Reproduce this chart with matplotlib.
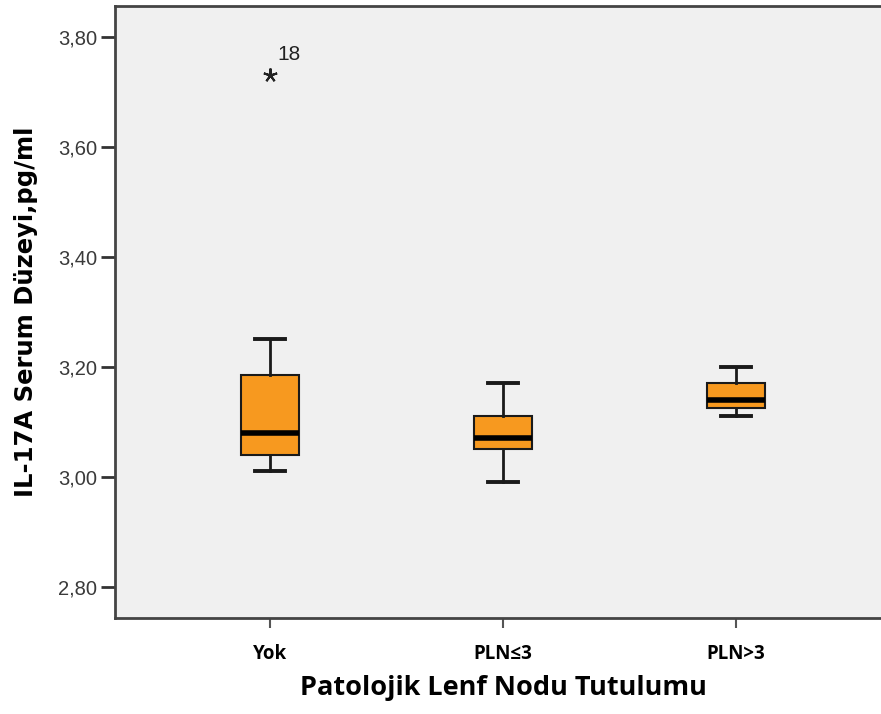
import matplotlib
matplotlib.use("Agg")
import matplotlib.pyplot as plt

# ── data ─────────────────────────────────────────────────────────────────────
groups    = ["Yok", "PLN≤3", "PLN>3"]
whislo    = [3.01, 2.99, 3.11]
q1        = [3.04, 3.05, 3.125]
medians   = [3.08, 3.07, 3.14]
q3        = [3.185, 3.11, 3.17]
whishi    = [3.25, 3.17, 3.20]
extremes  = [[3.73], [], []]
extreme_ids = [["18"], [], []]

yticks = [2.80, 3.00, 3.20, 3.40, 3.60, 3.80]

# ── figure ────────────────────────────────────────────────────────────────────
fig = plt.figure(figsize=(8.81, 7.14), dpi=100)
ax = fig.add_axes([0.1305, 0.1345, 0.8809, 0.857])
ax.set_facecolor("#f0f0f0")

stats = []
for i, g in enumerate(groups):
    stats.append(dict(label=g, whislo=whislo[i], q1=q1[i], med=medians[i],
                      q3=q3[i], whishi=whishi[i], fliers=[]))

pos = [1, 2, 3]
ax.bxp(stats, positions=pos, widths=0.25, patch_artist=True,
       showfliers=False,
       boxprops=dict(facecolor="#f7991f", edgecolor="#1a1a1a", linewidth=1.5),
       medianprops=dict(color="black", linewidth=4, solid_capstyle="butt"),
       whiskerprops=dict(color="#1a1a1a", linewidth=2),
       capprops=dict(color="#1a1a1a", linewidth=2.8),
       capwidths=0.13)

# extreme values (SPSS star + case number)
for i, vals in enumerate(extremes):
    for v, lab in zip(vals, extreme_ids[i]):
        ax.plot(pos[i], v, marker=(5, 2, 0), markersize=10, color="#222222",
                markeredgewidth=1.5)
        ax.annotate(lab, (pos[i], v), xytext=(5, 15), textcoords="offset points",
                    fontsize=15, family="Liberation Sans", color="#222222",
                    va="center", ha="left")

ax.set_xlim(0.335, 3.665)
ax.set_ylim(2.743, 3.856)

ax.set_yticks(yticks)
ax.set_yticklabels([f"{t:.2f}".replace(".", ",") for t in yticks],
                   family="Liberation Sans", fontsize=14.5, color="#3a3a3a")
ax.set_xticks(pos)
ax.set_xticklabels(groups, family=["Open Sans", "DejaVu Sans"],
                   fontweight="bold", fontsize=13.5)

ax.tick_params(axis="y", direction="out", length=10, width=2, color="#333333", pad=3)
ax.tick_params(axis="x", direction="out", length=7, width=1.5, color="#555555", pad=12)

for side in ["left", "top", "bottom", "right"]:
    ax.spines[side].set_color("#444444")
    ax.spines[side].set_linewidth(2)

ax.set_ylabel("IL-17A Serum Düzeyi,pg/ml", family="DejaVu Sans",
              fontweight="bold", fontsize=17.5, labelpad=14)
ax.set_xlabel("Patolojik Lenf Nodu Tutulumu", family="Open Sans",
              fontweight="bold", fontsize=19.5, labelpad=8)

fig.savefig("out.png", dpi=100, facecolor="white")
